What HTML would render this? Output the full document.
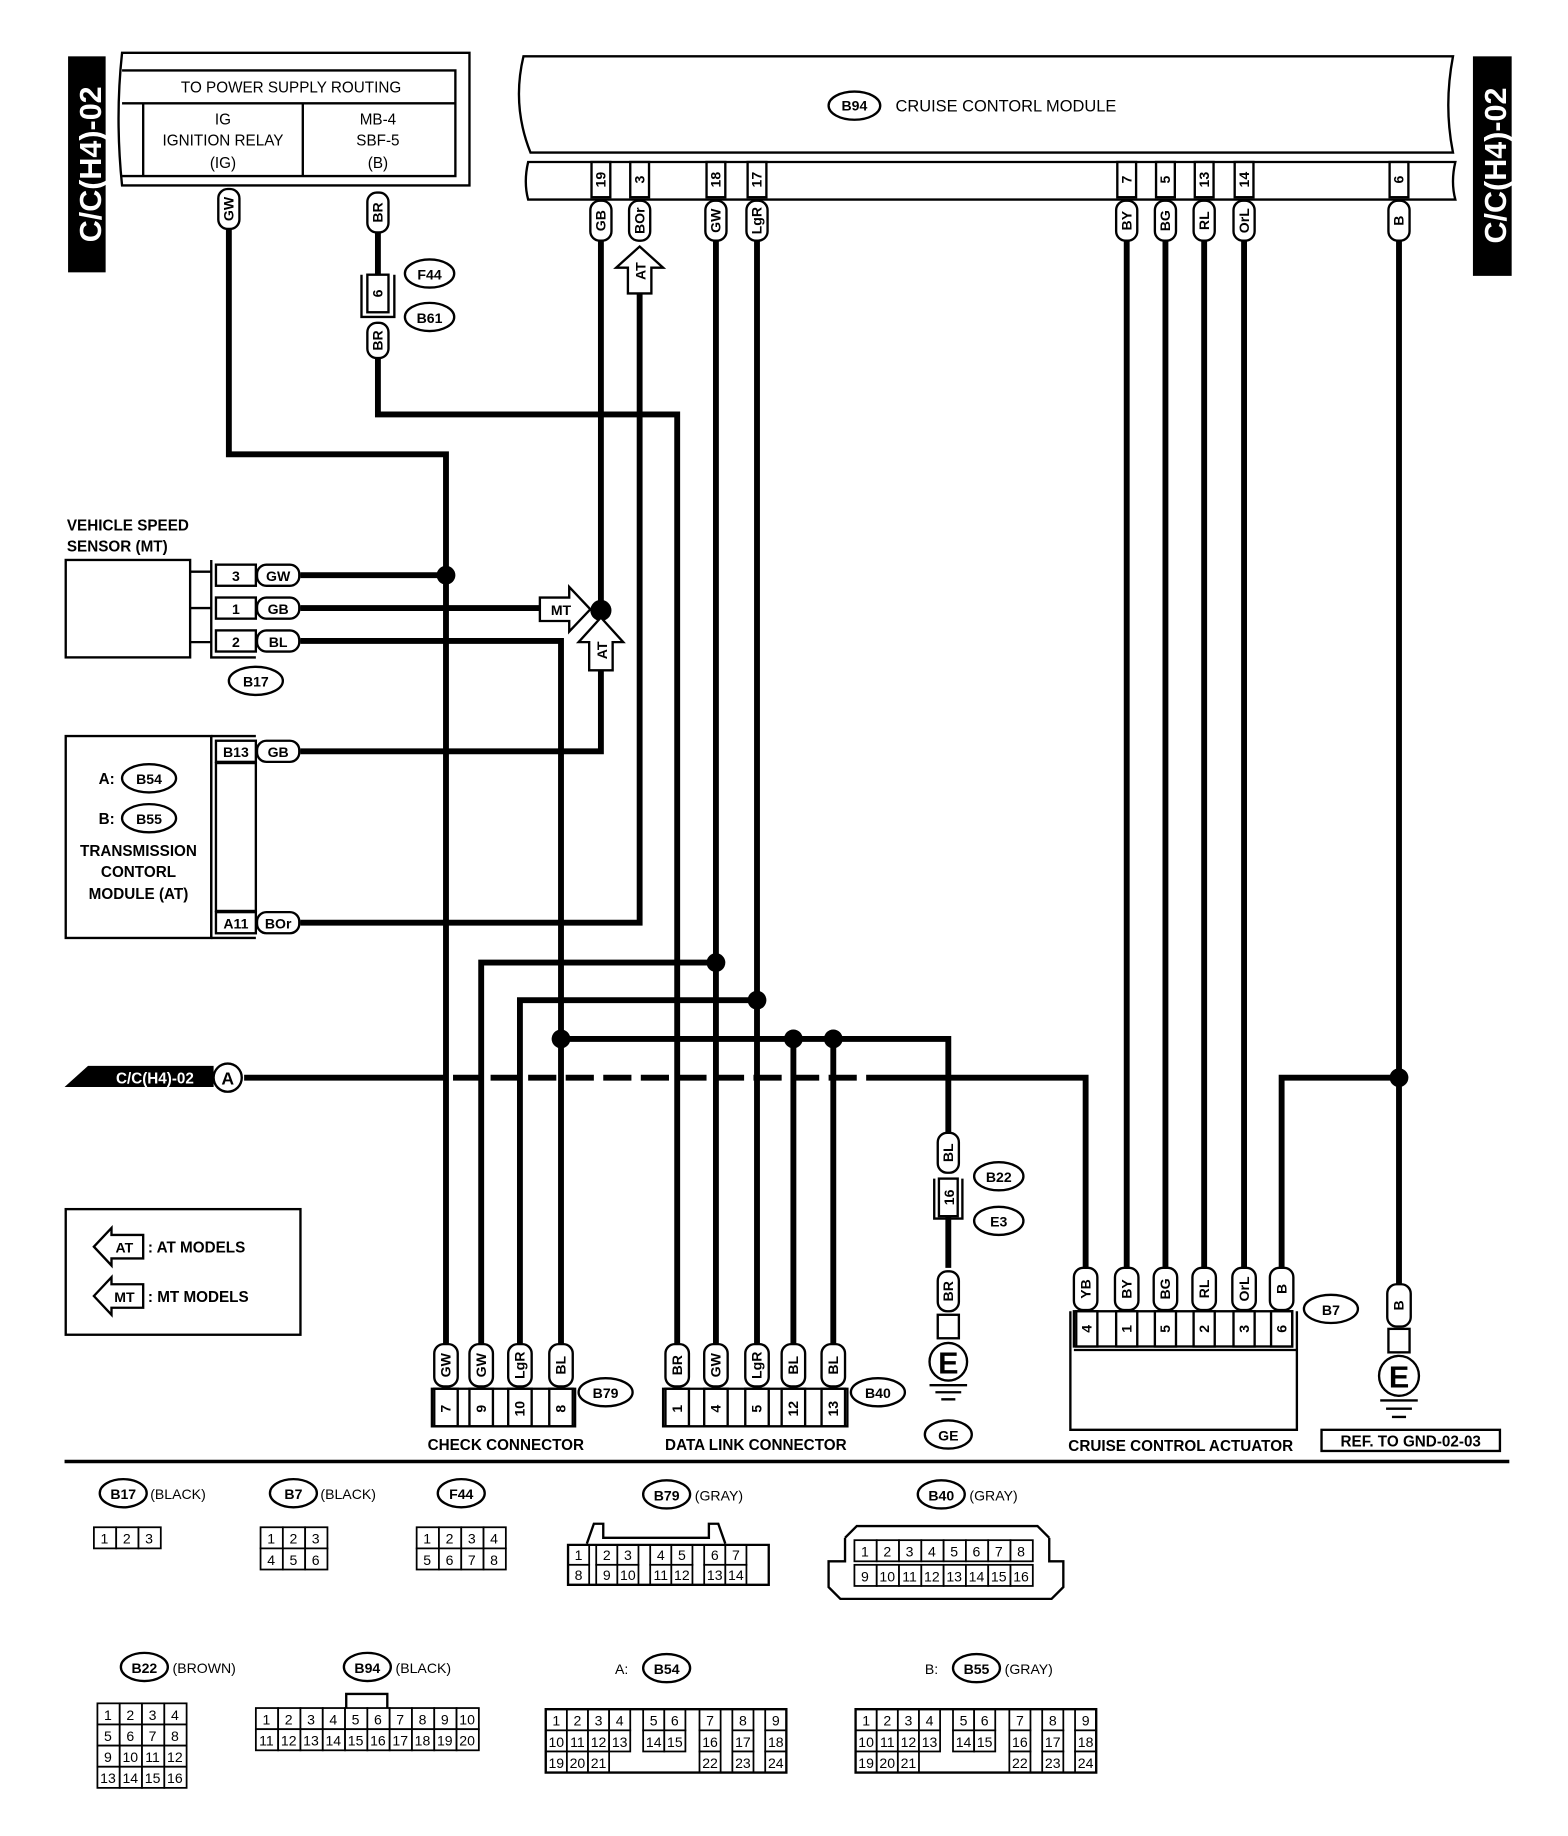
<!DOCTYPE html>
<html><head><meta charset="utf-8"><style>
html,body{margin:0;padding:0;background:#fff}
svg{display:block}
text{font-family:"Liberation Sans",sans-serif;font-weight:bold;fill:#000}
.w{stroke:#000;stroke-width:5;fill:none}
.l{stroke:#000;stroke-width:2;fill:none}
.tg rect{fill:#fff;stroke:#000;stroke-width:2}
.tg text{font-size:12px;text-anchor:middle}
.pn rect{fill:#fff;stroke:#000;stroke-width:2}
.pn text{font-size:12px;text-anchor:middle}
.ov{fill:#fff;stroke:#000;stroke-width:2}
.c text{font-size:12px;text-anchor:middle;font-weight:normal}
.c rect{fill:#fff;stroke:#000;stroke-width:1.5}
</style></head><body>
<svg width="1568" height="1836" viewBox="0 0 1336 1564" preserveAspectRatio="none" xmlns="http://www.w3.org/2000/svg">
<!-- side labels -->
<rect x="58" y="48" width="32" height="184" fill="#000"/>
<text transform="translate(86,140) rotate(-90)" style="font-size:26px;fill:#fff;text-anchor:middle">C/C(H4)-02</text>
<rect x="1255" y="48" width="33" height="187" fill="#000"/>
<text transform="translate(1283,141) rotate(-90)" style="font-size:26px;fill:#fff;text-anchor:middle">C/C(H4)-02</text>

<!-- power box -->
<path class="l" d="M104,45 L400,45 L400,158 L104,158 Q98,100 104,45Z"/>
<path class="l" d="M104,60 L388,60 L388,150 L104,150"/>
<line class="l" x1="104" y1="88" x2="388" y2="88"/>
<line class="l" x1="122" y1="88" x2="122" y2="150"/>
<line class="l" x1="258" y1="88" x2="258" y2="150"/>
<text x="248" y="79" style="font-size:13px;text-anchor:middle;font-weight:normal">TO POWER SUPPLY ROUTING</text>
<text x="190" y="106" style="font-size:13px;text-anchor:middle;font-weight:normal">IG</text>
<text x="190" y="124" style="font-size:13px;text-anchor:middle;font-weight:normal">IGNITION RELAY</text>
<text x="190" y="143" style="font-size:13px;text-anchor:middle;font-weight:normal">(IG)</text>
<text x="322" y="106" style="font-size:13px;text-anchor:middle;font-weight:normal">MB-4</text>
<text x="322" y="124" style="font-size:13px;text-anchor:middle;font-weight:normal">SBF-5</text>
<text x="322" y="143" style="font-size:13px;text-anchor:middle;font-weight:normal">(B)</text>

<!-- cruise module -->
<path class="l" d="M446,48 L1238,48 Q1230,90 1238,130 L452,130 Q436,90 446,48Z"/>
<path class="l" d="M450,138 L1240,138 Q1236,155 1240,170 L450,170 Q446,155 450,138Z"/>
<ellipse class="ov" cx="728" cy="90" rx="22" ry="12"/>
<text x="728" y="94" style="font-size:12px;text-anchor:middle">B94</text>
<text x="763" y="95" style="font-size:14px;font-weight:normal">CRUISE CONTORL MODULE</text>

<!-- WIRES -->
<path class="w" d="M195,195 V387 H380 V1145"/>
<path class="w" d="M322,198 V234 M322,305 V353 H577 V1145"/>
<path class="w" d="M512,205 V520"/>
<path class="w" d="M545,250 V786 H256"/>
<path class="w" d="M610,205 V1145"/>
<path class="w" d="M645,205 V1145"/>
<path class="w" d="M960,205 V1080 M993,205 V1080 M1026,205 V1080 M1060,205 V1080"/>
<path class="w" d="M1192,205 V1095"/>
<path class="w" d="M1192,918 H1092 V1080"/>
<path class="w" d="M256,490 H380"/>
<path class="w" d="M256,518 H460"/>
<path class="w" d="M256,546 H478 V1145"/>
<path class="w" d="M512,570 V640 H256"/>
<path class="w" d="M410,1145 V820 H610"/>
<path class="w" d="M443,1145 V852 H645"/>
<path class="w" d="M478,885 H808 V965"/>
<path class="w" d="M676,885 V1145 M710,885 V1145"/>
<path class="w" d="M208,918 H925 V1080" stroke-dasharray="170,8,24,8,24,8,24,8,24,8,24,8,24,8,24,8,24,8,24,8,24,8,24,8,400"/>
<path class="w" d="M808,1035 V1080"/>
<!-- junctions -->
<g fill="#000"><circle cx="380" cy="490" r="8"/><circle cx="512" cy="520" r="9"/><circle cx="610" cy="820" r="8"/><circle cx="645" cy="852" r="8"/><circle cx="478" cy="885" r="8"/><circle cx="676" cy="885" r="8"/><circle cx="710" cy="885" r="8"/><circle cx="1192" cy="918" r="8"/></g>

<!-- arrows -->
<polygon points="545,210 565,228 555,228 555,250 535,250 535,228 525,228" fill="#fff" stroke="#000" stroke-width="2"/>
<text transform="translate(550,231) rotate(-90)" style="font-size:12px;text-anchor:middle">AT</text>
<polygon points="460,509 485,509 485,500 503,519 485,538 485,529 460,529" fill="#fff" stroke="#000" stroke-width="2"/>
<text x="478" y="524" style="font-size:12px;text-anchor:middle">MT</text>
<polygon points="512,526 531,547 522,547 522,571 502,571 502,547 493,547" fill="#fff" stroke="#000" stroke-width="2"/>
<text transform="translate(517,554) rotate(-90)" style="font-size:12px;text-anchor:middle">AT</text>

<!-- tags -->
<g class="tg">
<g transform="translate(195,178)"><rect x="-9" y="-17" width="18" height="34" rx="8"/><text transform="rotate(-90)" y="4">GW</text></g>
<g transform="translate(322,181)"><rect x="-9" y="-17" width="18" height="34" rx="8"/><text transform="rotate(-90)" y="4">BR</text></g>
<g transform="translate(322,290)"><rect x="-9" y="-15" width="18" height="30" rx="8"/><text transform="rotate(-90)" y="4">BR</text></g>
<g transform="translate(512,188)"><rect x="-9" y="-17" width="18" height="34" rx="8"/><text transform="rotate(-90)" y="4">GB</text></g>
<g transform="translate(545,188)"><rect x="-9" y="-17" width="18" height="34" rx="8"/><text transform="rotate(-90)" y="4">BOr</text></g>
<g transform="translate(610,188)"><rect x="-9" y="-17" width="18" height="34" rx="8"/><text transform="rotate(-90)" y="4">GW</text></g>
<g transform="translate(645,188)"><rect x="-9" y="-17" width="18" height="34" rx="8"/><text transform="rotate(-90)" y="4">LgR</text></g>
<g transform="translate(960,188)"><rect x="-9" y="-17" width="18" height="34" rx="8"/><text transform="rotate(-90)" y="4">BY</text></g>
<g transform="translate(993,188)"><rect x="-9" y="-17" width="18" height="34" rx="8"/><text transform="rotate(-90)" y="4">BG</text></g>
<g transform="translate(1026,188)"><rect x="-9" y="-17" width="18" height="34" rx="8"/><text transform="rotate(-90)" y="4">RL</text></g>
<g transform="translate(1060,188)"><rect x="-9" y="-17" width="18" height="34" rx="8"/><text transform="rotate(-90)" y="4">OrL</text></g>
<g transform="translate(1192,188)"><rect x="-9" y="-17" width="18" height="34" rx="8"/><text transform="rotate(-90)" y="4">B</text></g>
<g transform="translate(237,490)"><rect x="-18" y="-9" width="36" height="18" rx="8"/><text y="5">GW</text></g>
<g transform="translate(237,518)"><rect x="-18" y="-9" width="36" height="18" rx="8"/><text y="5">GB</text></g>
<g transform="translate(237,546)"><rect x="-18" y="-9" width="36" height="18" rx="8"/><text y="5">BL</text></g>
<g transform="translate(237,640)"><rect x="-18" y="-9" width="36" height="18" rx="8"/><text y="5">GB</text></g>
<g transform="translate(237,786)"><rect x="-18" y="-9" width="36" height="18" rx="8"/><text y="5">BOr</text></g>
<g transform="translate(925,1098)"><rect x="-10" y="-18" width="20" height="36" rx="8"/><text transform="rotate(-90)" y="4">YB</text></g>
<g transform="translate(960,1098)"><rect x="-10" y="-18" width="20" height="36" rx="8"/><text transform="rotate(-90)" y="4">BY</text></g>
<g transform="translate(993,1098)"><rect x="-10" y="-18" width="20" height="36" rx="8"/><text transform="rotate(-90)" y="4">BG</text></g>
<g transform="translate(1026,1098)"><rect x="-10" y="-18" width="20" height="36" rx="8"/><text transform="rotate(-90)" y="4">RL</text></g>
<g transform="translate(1060,1098)"><rect x="-10" y="-18" width="20" height="36" rx="8"/><text transform="rotate(-90)" y="4">OrL</text></g>
<g transform="translate(1092,1098)"><rect x="-10" y="-18" width="20" height="36" rx="8"/><text transform="rotate(-90)" y="4">B</text></g>
<g transform="translate(1192,1112)"><rect x="-10" y="-18" width="20" height="36" rx="8"/><text transform="rotate(-90)" y="4">B</text></g>
<g transform="translate(808,982)"><rect x="-9" y="-17" width="18" height="34" rx="8"/><text transform="rotate(-90)" y="4">BL</text></g>
<g transform="translate(808,1100)"><rect x="-9" y="-17" width="18" height="34" rx="8"/><text transform="rotate(-90)" y="4">BR</text></g>
<g transform="translate(380,1163)"><rect x="-10" y="-18" width="20" height="36" rx="8"/><text transform="rotate(-90)" y="4">GW</text></g>
<g transform="translate(410,1163)"><rect x="-10" y="-18" width="20" height="36" rx="8"/><text transform="rotate(-90)" y="4">GW</text></g>
<g transform="translate(443,1163)"><rect x="-10" y="-18" width="20" height="36" rx="8"/><text transform="rotate(-90)" y="4">LgR</text></g>
<g transform="translate(478,1163)"><rect x="-10" y="-18" width="20" height="36" rx="8"/><text transform="rotate(-90)" y="4">BL</text></g>
<g transform="translate(577,1163)"><rect x="-10" y="-18" width="20" height="36" rx="8"/><text transform="rotate(-90)" y="4">BR</text></g>
<g transform="translate(610,1163)"><rect x="-10" y="-18" width="20" height="36" rx="8"/><text transform="rotate(-90)" y="4">GW</text></g>
<g transform="translate(645,1163)"><rect x="-10" y="-18" width="20" height="36" rx="8"/><text transform="rotate(-90)" y="4">LgR</text></g>
<g transform="translate(676,1163)"><rect x="-10" y="-18" width="20" height="36" rx="8"/><text transform="rotate(-90)" y="4">BL</text></g>
<g transform="translate(710,1163)"><rect x="-10" y="-18" width="20" height="36" rx="8"/><text transform="rotate(-90)" y="4">BL</text></g>
</g>

<!-- pins on module -->
<g class="pn">
<g transform="translate(512,153)"><rect x="-8" y="-15" width="16" height="30"/><text transform="rotate(-90)" y="4">19</text></g>
<g transform="translate(545,153)"><rect x="-8" y="-15" width="16" height="30"/><text transform="rotate(-90)" y="4">3</text></g>
<g transform="translate(610,153)"><rect x="-8" y="-15" width="16" height="30"/><text transform="rotate(-90)" y="4">18</text></g>
<g transform="translate(645,153)"><rect x="-8" y="-15" width="16" height="30"/><text transform="rotate(-90)" y="4">17</text></g>
<g transform="translate(960,153)"><rect x="-8" y="-15" width="16" height="30"/><text transform="rotate(-90)" y="4">7</text></g>
<g transform="translate(993,153)"><rect x="-8" y="-15" width="16" height="30"/><text transform="rotate(-90)" y="4">5</text></g>
<g transform="translate(1026,153)"><rect x="-8" y="-15" width="16" height="30"/><text transform="rotate(-90)" y="4">13</text></g>
<g transform="translate(1060,153)"><rect x="-8" y="-15" width="16" height="30"/><text transform="rotate(-90)" y="4">14</text></g>
<g transform="translate(1192,153)"><rect x="-8" y="-15" width="16" height="30"/><text transform="rotate(-90)" y="4">6</text></g>
</g>

<!-- F44/B61 block -->
<path class="l" d="M308,234 V270 H336 V234"/>
<rect x="313" y="234" width="18" height="32" fill="#fff" stroke="#000" stroke-width="2"/>
<text transform="translate(326,250) rotate(-90)" style="font-size:12px;text-anchor:middle">6</text>
<ellipse class="ov" cx="366" cy="233" rx="21" ry="12"/><text x="366" y="238" style="font-size:12px;text-anchor:middle">F44</text>
<ellipse class="ov" cx="366" cy="270" rx="21" ry="12"/><text x="366" y="275" style="font-size:12px;text-anchor:middle">B61</text>

<!-- VSS -->
<text x="57" y="452" style="font-size:13px">VEHICLE SPEED</text>
<text x="57" y="470" style="font-size:13px">SENSOR (MT)</text>
<rect x="56" y="477" width="106" height="83" fill="#fff" stroke="#000" stroke-width="2"/>
<path class="l" d="M162,487 H180 M162,518 H180 M162,547 H180"/>
<path class="l" d="M180,477 V560 H218"/>
<g class="pn"><rect x="184" y="481" width="34" height="18"/><rect x="184" y="509" width="34" height="18"/><rect x="184" y="537" width="34" height="18"/>
<text x="201" y="495">3</text><text x="201" y="523">1</text><text x="201" y="551">2</text></g>
<ellipse class="ov" cx="218" cy="580" rx="23" ry="12"/><text x="218" y="585" style="font-size:12px;text-anchor:middle">B17</text>

<!-- TCM -->
<rect x="56" y="627" width="124" height="172" fill="#fff" stroke="#000" stroke-width="2"/>
<path class="l" d="M180,627 H218 M180,799 H218 M180,627 V799"/>
<rect x="184" y="650" width="34" height="126" fill="none" stroke="#000" stroke-width="2"/>
<g class="pn"><rect x="184" y="631" width="34" height="18"/><rect x="184" y="777" width="34" height="18"/>
<text x="201" y="645">B13</text><text x="201" y="791">A11</text></g>
<text x="84" y="668" style="font-size:13px">A:</text>
<ellipse class="ov" cx="127" cy="663" rx="23" ry="12"/><text x="127" y="668" style="font-size:12px;text-anchor:middle">B54</text>
<text x="84" y="702" style="font-size:13px">B:</text>
<ellipse class="ov" cx="127" cy="697" rx="23" ry="12"/><text x="127" y="702" style="font-size:12px;text-anchor:middle">B55</text>
<text x="118" y="729" style="font-size:13px;text-anchor:middle">TRANSMISSION</text>
<text x="118" y="747" style="font-size:13px;text-anchor:middle">CONTORL</text>
<text x="118" y="766" style="font-size:13px;text-anchor:middle">MODULE (AT)</text>

<!-- C/C A -->
<polygon points="55,926 75,908 182,908 182,926" fill="#000"/>
<text x="132" y="923" style="font-size:13px;fill:#fff;text-anchor:middle">C/C(H4)-02</text>
<circle cx="194" cy="918" r="12" fill="#fff" stroke="#000" stroke-width="2"/>
<text x="194" y="924" style="font-size:15px;text-anchor:middle">A</text>

<!-- legend -->
<rect x="56" y="1030" width="200" height="107" fill="#fff" stroke="#000" stroke-width="2"/>
<polygon points="80,1062 95,1046 95,1052 122,1052 122,1072 95,1072 95,1078" fill="#fff" stroke="#000" stroke-width="2"/>
<text x="106" y="1067" style="font-size:12px;text-anchor:middle">AT</text>
<text x="126" y="1067" style="font-size:13px">: AT MODELS</text>
<polygon points="80,1104 95,1088 95,1094 122,1094 122,1114 95,1114 95,1120" fill="#fff" stroke="#000" stroke-width="2"/>
<text x="106" y="1109" style="font-size:12px;text-anchor:middle">MT</text>
<text x="126" y="1109" style="font-size:13px">: MT MODELS</text>

<!-- check connector -->
<g class="pn">
<rect x="370" y="1183" width="20" height="32"/><rect x="400" y="1183" width="20" height="32"/><rect x="433" y="1183" width="20" height="32"/><rect x="468" y="1183" width="20" height="32"/>
<text transform="translate(384,1200) rotate(-90)">7</text><text transform="translate(414,1200) rotate(-90)">9</text><text transform="translate(447,1200) rotate(-90)">10</text><text transform="translate(482,1200) rotate(-90)">8</text>
<rect x="567" y="1183" width="20" height="32"/><rect x="600" y="1183" width="20" height="32"/><rect x="635" y="1183" width="20" height="32"/><rect x="666" y="1183" width="20" height="32"/><rect x="700" y="1183" width="20" height="32"/>
<text transform="translate(581,1200) rotate(-90)">1</text><text transform="translate(614,1200) rotate(-90)">4</text><text transform="translate(649,1200) rotate(-90)">5</text><text transform="translate(680,1200) rotate(-90)">12</text><text transform="translate(714,1200) rotate(-90)">13</text>
</g>
<path class="l" d="M368,1183 H490 V1215 H368Z M565,1183 H722 V1215 H565Z"/>
<ellipse class="ov" cx="516" cy="1186" rx="23" ry="12"/><text x="516" y="1191" style="font-size:12px;text-anchor:middle">B79</text>
<ellipse class="ov" cx="748" cy="1186" rx="23" ry="12"/><text x="748" y="1191" style="font-size:12px;text-anchor:middle">B40</text>
<text x="431" y="1235" style="font-size:13px;text-anchor:middle">CHECK CONNECTOR</text>
<text x="644" y="1235" style="font-size:13px;text-anchor:middle">DATA LINK CONNECTOR</text>

<!-- B22/E3 and ground -->
<path class="l" d="M796,1004 V1038 H820 V1004"/>
<rect x="800" y="1004" width="16" height="32" fill="#fff" stroke="#000" stroke-width="2"/>
<text transform="translate(813,1020) rotate(-90)" style="font-size:12px;text-anchor:middle">16</text>
<ellipse class="ov" cx="851" cy="1002" rx="21" ry="12"/><text x="851" y="1007" style="font-size:12px;text-anchor:middle">B22</text>
<ellipse class="ov" cx="851" cy="1040" rx="21" ry="12"/><text x="851" y="1045" style="font-size:12px;text-anchor:middle">E3</text>
<rect x="799" y="1120" width="18" height="20" fill="#fff" stroke="#000" stroke-width="2"/>
<circle cx="808" cy="1160" r="16" fill="#fff" stroke="#000" stroke-width="2"/>
<text x="808" y="1170" style="font-size:26px;text-anchor:middle">E</text>
<path class="l" d="M792,1180 H824 M797,1186 H819 M802,1192 H814"/>
<ellipse class="ov" cx="808" cy="1222" rx="20" ry="12"/><text x="808" y="1227" style="font-size:12px;text-anchor:middle">GE</text>

<rect x="1183" y="1132" width="18" height="20" fill="#fff" stroke="#000" stroke-width="2"/>
<circle cx="1192" cy="1172" r="17" fill="#fff" stroke="#000" stroke-width="2"/>
<text x="1192" y="1182" style="font-size:26px;text-anchor:middle">E</text>
<path class="l" d="M1176,1193 H1208 M1181,1200 H1203 M1186,1207 H1198"/>

<!-- actuator -->
<path class="l" d="M912,1117 V1218 H1105 V1117"/>
<line class="l" x1="915" y1="1150" x2="1105" y2="1150"/>
<rect x="915" y="1117" width="186" height="30" fill="#fff" stroke="#000" stroke-width="2"/>
<g class="pn">
<rect x="917" y="1117" width="18" height="30"/><rect x="951" y="1117" width="18" height="30"/><rect x="984" y="1117" width="18" height="30"/><rect x="1017" y="1117" width="18" height="30"/><rect x="1051" y="1117" width="18" height="30"/><rect x="1083" y="1117" width="18" height="30"/>
<text transform="translate(930,1132) rotate(-90)">4</text><text transform="translate(964,1132) rotate(-90)">1</text><text transform="translate(997,1132) rotate(-90)">5</text><text transform="translate(1030,1132) rotate(-90)">2</text><text transform="translate(1064,1132) rotate(-90)">3</text><text transform="translate(1096,1132) rotate(-90)">6</text>
</g>
<ellipse class="ov" cx="1134" cy="1115" rx="23" ry="12"/><text x="1134" y="1120" style="font-size:12px;text-anchor:middle">B7</text>
<text x="1006" y="1236" style="font-size:13px;text-anchor:middle">CRUISE CONTROL ACTUATOR</text>
<rect x="1126" y="1218" width="152" height="18" fill="#fff" stroke="#000" stroke-width="2"/>
<text x="1202" y="1232" style="font-size:13px;text-anchor:middle">REF. TO GND-02-03</text>

<line x1="55" y1="1245" x2="1286" y2="1245" stroke="#000" stroke-width="3"/>

<!-- bottom connector labels -->
<g style="font-size:12px">
<ellipse class="ov" cx="105" cy="1272" rx="20" ry="12"/><text x="105" y="1277" style="text-anchor:middle">B17</text><text x="128" y="1277" style="font-weight:normal">(BLACK)</text>
<ellipse class="ov" cx="250" cy="1272" rx="20" ry="12"/><text x="250" y="1277" style="text-anchor:middle">B7</text><text x="273" y="1277" style="font-weight:normal">(BLACK)</text>
<ellipse class="ov" cx="393" cy="1272" rx="20" ry="12"/><text x="393" y="1277" style="text-anchor:middle">F44</text>
<ellipse class="ov" cx="568" cy="1273" rx="20" ry="12"/><text x="568" y="1278" style="text-anchor:middle">B79</text><text x="592" y="1278" style="font-weight:normal">(GRAY)</text>
<ellipse class="ov" cx="802" cy="1273" rx="20" ry="12"/><text x="802" y="1278" style="text-anchor:middle">B40</text><text x="826" y="1278" style="font-weight:normal">(GRAY)</text>
<ellipse class="ov" cx="123" cy="1420" rx="20" ry="12"/><text x="123" y="1425" style="text-anchor:middle">B22</text><text x="147" y="1425" style="font-weight:normal">(BROWN)</text>
<ellipse class="ov" cx="313" cy="1420" rx="20" ry="12"/><text x="313" y="1425" style="text-anchor:middle">B94</text><text x="337" y="1425" style="font-weight:normal">(BLACK)</text>
<text x="524" y="1426" style="font-weight:normal">A:</text>
<ellipse class="ov" cx="568" cy="1421" rx="20" ry="12"/><text x="568" y="1426" style="text-anchor:middle">B54</text>
<text x="788" y="1426" style="font-weight:normal">B:</text>
<ellipse class="ov" cx="832" cy="1421" rx="20" ry="12"/><text x="832" y="1426" style="text-anchor:middle">B55</text><text x="856" y="1426" style="font-weight:normal">(GRAY)</text>
</g>

<g class="c">
<!-- B17 -->
<rect x="80" y="1301" width="19" height="18"/><rect x="99" y="1301" width="19" height="18"/><rect x="118" y="1301" width="19" height="18"/>
<text x="89" y="1315">1</text><text x="108" y="1315">2</text><text x="127" y="1315">3</text>
<!-- B7 -->
<rect x="222" y="1301" width="19" height="18"/><rect x="241" y="1301" width="19" height="18"/><rect x="260" y="1301" width="19" height="18"/>
<rect x="222" y="1319" width="19" height="18"/><rect x="241" y="1319" width="19" height="18"/><rect x="260" y="1319" width="19" height="18"/>
<text x="231" y="1315">1</text><text x="250" y="1315">2</text><text x="269" y="1315">3</text><text x="231" y="1333">4</text><text x="250" y="1333">5</text><text x="269" y="1333">6</text>
<!-- F44 -->
<rect x="355" y="1301" width="19" height="18"/><rect x="374" y="1301" width="19" height="18"/><rect x="393" y="1301" width="19" height="18"/><rect x="412" y="1301" width="19" height="18"/>
<rect x="355" y="1319" width="19" height="18"/><rect x="374" y="1319" width="19" height="18"/><rect x="393" y="1319" width="19" height="18"/><rect x="412" y="1319" width="19" height="18"/>
<text x="364" y="1315">1</text><text x="383" y="1315">2</text><text x="402" y="1315">3</text><text x="421" y="1315">4</text><text x="364" y="1333">5</text><text x="383" y="1333">6</text><text x="402" y="1333">7</text><text x="421" y="1333">8</text>
</g>
<!-- B79 -->
<path class="l" d="M500,1315 L506,1298 H514 V1310 H604 V1298 H612 L618,1315" stroke-width="1.5"/>
<g class="c">
<rect x="484" y="1316" width="18" height="17"/><rect x="508" y="1316" width="18" height="17"/><rect x="526" y="1316" width="18" height="17"/><rect x="554" y="1316" width="18" height="17"/><rect x="572" y="1316" width="18" height="17"/><rect x="600" y="1316" width="18" height="17"/><rect x="618" y="1316" width="18" height="17"/>
<rect x="484" y="1333" width="18" height="17"/><rect x="508" y="1333" width="18" height="17"/><rect x="526" y="1333" width="18" height="17"/><rect x="554" y="1333" width="18" height="17"/><rect x="572" y="1333" width="18" height="17"/><rect x="600" y="1333" width="18" height="17"/><rect x="618" y="1333" width="18" height="17"/>
<text x="493" y="1329">1</text><text x="517" y="1329">2</text><text x="535" y="1329">3</text><text x="563" y="1329">4</text><text x="581" y="1329">5</text><text x="609" y="1329">6</text><text x="627" y="1329">7</text>
<text x="493" y="1346">8</text><text x="517" y="1346">9</text><text x="535" y="1346">10</text><text x="563" y="1346">11</text><text x="581" y="1346">12</text><text x="609" y="1346">13</text><text x="627" y="1346">14</text>
</g>
<path class="l" d="M484,1316 H655 V1350 H484Z" stroke-width="1.5"/>
<!-- B40 -->
<path class="l" d="M720,1310 L730,1300 H884 L894,1310 M720,1310 V1330 H706 V1352 L716,1362 H896 L906,1352 V1330 H894 V1310" stroke-width="1.5"/>
<g class="c">
<rect x="728" y="1312" width="19" height="18"/><rect x="747" y="1312" width="19" height="18"/><rect x="766" y="1312" width="19" height="18"/><rect x="785" y="1312" width="19" height="18"/><rect x="804" y="1312" width="19" height="18"/><rect x="823" y="1312" width="19" height="18"/><rect x="842" y="1312" width="19" height="18"/><rect x="861" y="1312" width="19" height="18"/>
<rect x="728" y="1333" width="19" height="18"/><rect x="747" y="1333" width="19" height="18"/><rect x="766" y="1333" width="19" height="18"/><rect x="785" y="1333" width="19" height="18"/><rect x="804" y="1333" width="19" height="18"/><rect x="823" y="1333" width="19" height="18"/><rect x="842" y="1333" width="19" height="18"/><rect x="861" y="1333" width="19" height="18"/>
<text x="737" y="1326">1</text><text x="756" y="1326">2</text><text x="775" y="1326">3</text><text x="794" y="1326">4</text><text x="813" y="1326">5</text><text x="832" y="1326">6</text><text x="851" y="1326">7</text><text x="870" y="1326">8</text>
<text x="737" y="1347">9</text><text x="756" y="1347">10</text><text x="775" y="1347">11</text><text x="794" y="1347">12</text><text x="813" y="1347">13</text><text x="832" y="1347">14</text><text x="851" y="1347">15</text><text x="870" y="1347">16</text>
</g>
<!-- B22 -->
<g class="c">
<rect x="83" y="1451" width="19" height="18"/><rect x="102" y="1451" width="19" height="18"/><rect x="121" y="1451" width="19" height="18"/><rect x="140" y="1451" width="19" height="18"/>
<rect x="83" y="1469" width="19" height="18"/><rect x="102" y="1469" width="19" height="18"/><rect x="121" y="1469" width="19" height="18"/><rect x="140" y="1469" width="19" height="18"/>
<rect x="83" y="1487" width="19" height="18"/><rect x="102" y="1487" width="19" height="18"/><rect x="121" y="1487" width="19" height="18"/><rect x="140" y="1487" width="19" height="18"/>
<rect x="83" y="1505" width="19" height="18"/><rect x="102" y="1505" width="19" height="18"/><rect x="121" y="1505" width="19" height="18"/><rect x="140" y="1505" width="19" height="18"/>
<text x="92" y="1465">1</text><text x="111" y="1465">2</text><text x="130" y="1465">3</text><text x="149" y="1465">4</text>
<text x="92" y="1483">5</text><text x="111" y="1483">6</text><text x="130" y="1483">7</text><text x="149" y="1483">8</text>
<text x="92" y="1501">9</text><text x="111" y="1501">10</text><text x="130" y="1501">11</text><text x="149" y="1501">12</text>
<text x="92" y="1519">13</text><text x="111" y="1519">14</text><text x="130" y="1519">15</text><text x="149" y="1519">16</text>
</g>
<!-- B94 -->
<path class="l" d="M295,1455 V1443 H330 V1455" stroke-width="1.5"/>
<g class="c">
<rect x="218" y="1455" width="19" height="18"/><rect x="237" y="1455" width="19" height="18"/><rect x="256" y="1455" width="19" height="18"/><rect x="275" y="1455" width="19" height="18"/><rect x="294" y="1455" width="19" height="18"/><rect x="313" y="1455" width="19" height="18"/><rect x="332" y="1455" width="19" height="18"/><rect x="351" y="1455" width="19" height="18"/><rect x="370" y="1455" width="19" height="18"/><rect x="389" y="1455" width="19" height="18"/>
<rect x="218" y="1473" width="19" height="18"/><rect x="237" y="1473" width="19" height="18"/><rect x="256" y="1473" width="19" height="18"/><rect x="275" y="1473" width="19" height="18"/><rect x="294" y="1473" width="19" height="18"/><rect x="313" y="1473" width="19" height="18"/><rect x="332" y="1473" width="19" height="18"/><rect x="351" y="1473" width="19" height="18"/><rect x="370" y="1473" width="19" height="18"/><rect x="389" y="1473" width="19" height="18"/>
<text x="227" y="1469">1</text><text x="246" y="1469">2</text><text x="265" y="1469">3</text><text x="284" y="1469">4</text><text x="303" y="1469">5</text><text x="322" y="1469">6</text><text x="341" y="1469">7</text><text x="360" y="1469">8</text><text x="379" y="1469">9</text><text x="398" y="1469">10</text>
<text x="227" y="1487">11</text><text x="246" y="1487">12</text><text x="265" y="1487">13</text><text x="284" y="1487">14</text><text x="303" y="1487">15</text><text x="322" y="1487">16</text><text x="341" y="1487">17</text><text x="360" y="1487">18</text><text x="379" y="1487">19</text><text x="398" y="1487">20</text>
</g>
<!-- B54 -->
<g class="c">
<rect x="465" y="1456" width="18" height="18"/><rect x="483" y="1456" width="18" height="18"/><rect x="501" y="1456" width="18" height="18"/><rect x="519" y="1456" width="18" height="18"/><rect x="548" y="1456" width="18" height="18"/><rect x="566" y="1456" width="18" height="18"/><rect x="596" y="1456" width="18" height="18"/><rect x="624" y="1456" width="18" height="18"/><rect x="652" y="1456" width="18" height="18"/>
<rect x="465" y="1474" width="18" height="18"/><rect x="483" y="1474" width="18" height="18"/><rect x="501" y="1474" width="18" height="18"/><rect x="519" y="1474" width="18" height="18"/><rect x="548" y="1474" width="18" height="18"/><rect x="566" y="1474" width="18" height="18"/><rect x="596" y="1474" width="18" height="18"/><rect x="624" y="1474" width="18" height="18"/><rect x="652" y="1474" width="18" height="18"/>
<rect x="465" y="1492" width="18" height="18"/><rect x="483" y="1492" width="18" height="18"/><rect x="501" y="1492" width="18" height="18"/><rect x="596" y="1492" width="18" height="18"/><rect x="624" y="1492" width="18" height="18"/><rect x="652" y="1492" width="18" height="18"/>
<text x="474" y="1470">1</text><text x="492" y="1470">2</text><text x="510" y="1470">3</text><text x="528" y="1470">4</text><text x="557" y="1470">5</text><text x="575" y="1470">6</text><text x="605" y="1470">7</text><text x="633" y="1470">8</text><text x="661" y="1470">9</text>
<text x="474" y="1488">10</text><text x="492" y="1488">11</text><text x="510" y="1488">12</text><text x="528" y="1488">13</text><text x="557" y="1488">14</text><text x="575" y="1488">15</text><text x="605" y="1488">16</text><text x="633" y="1488">17</text><text x="661" y="1488">18</text>
<text x="474" y="1506">19</text><text x="492" y="1506">20</text><text x="510" y="1506">21</text><text x="605" y="1506">22</text><text x="633" y="1506">23</text><text x="661" y="1506">24</text>
</g>
<path class="l" d="M465,1456 H670 V1510 H465Z" stroke-width="1.5"/>
<!-- B55 -->
<g class="c">
<rect x="729" y="1456" width="18" height="18"/><rect x="747" y="1456" width="18" height="18"/><rect x="765" y="1456" width="18" height="18"/><rect x="783" y="1456" width="18" height="18"/><rect x="812" y="1456" width="18" height="18"/><rect x="830" y="1456" width="18" height="18"/><rect x="860" y="1456" width="18" height="18"/><rect x="888" y="1456" width="18" height="18"/><rect x="916" y="1456" width="18" height="18"/>
<rect x="729" y="1474" width="18" height="18"/><rect x="747" y="1474" width="18" height="18"/><rect x="765" y="1474" width="18" height="18"/><rect x="783" y="1474" width="18" height="18"/><rect x="812" y="1474" width="18" height="18"/><rect x="830" y="1474" width="18" height="18"/><rect x="860" y="1474" width="18" height="18"/><rect x="888" y="1474" width="18" height="18"/><rect x="916" y="1474" width="18" height="18"/>
<rect x="729" y="1492" width="18" height="18"/><rect x="747" y="1492" width="18" height="18"/><rect x="765" y="1492" width="18" height="18"/><rect x="860" y="1492" width="18" height="18"/><rect x="888" y="1492" width="18" height="18"/><rect x="916" y="1492" width="18" height="18"/>
<text x="738" y="1470">1</text><text x="756" y="1470">2</text><text x="774" y="1470">3</text><text x="792" y="1470">4</text><text x="821" y="1470">5</text><text x="839" y="1470">6</text><text x="869" y="1470">7</text><text x="897" y="1470">8</text><text x="925" y="1470">9</text>
<text x="738" y="1488">10</text><text x="756" y="1488">11</text><text x="774" y="1488">12</text><text x="792" y="1488">13</text><text x="821" y="1488">14</text><text x="839" y="1488">15</text><text x="869" y="1488">16</text><text x="897" y="1488">17</text><text x="925" y="1488">18</text>
<text x="738" y="1506">19</text><text x="756" y="1506">20</text><text x="774" y="1506">21</text><text x="869" y="1506">22</text><text x="897" y="1506">23</text><text x="925" y="1506">24</text>
</g>
<path class="l" d="M729,1456 H934 V1510 H729Z" stroke-width="1.5"/>
</svg>
</body></html>
